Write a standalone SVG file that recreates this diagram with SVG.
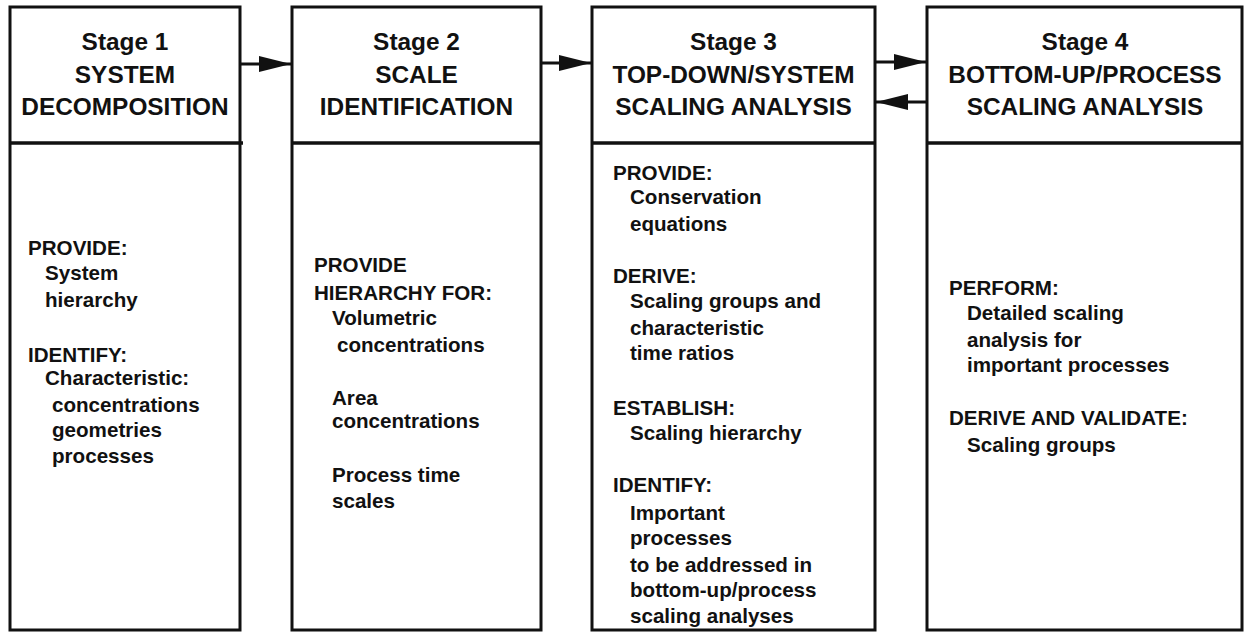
<svg xmlns="http://www.w3.org/2000/svg" width="1247" height="633" viewBox="0 0 1247 633">
<style>
.box{fill:#fff;stroke:#111;stroke-width:3}
.div{stroke:#111;stroke-width:3.5}
.hd{font-family:"Liberation Sans",Arial,Helvetica,sans-serif;font-weight:bold;font-size:24.4px;fill:#111;text-anchor:middle}
.bt{font-family:"Liberation Sans",Arial,Helvetica,sans-serif;font-weight:bold;font-size:20.6px;fill:#111}
.conn{stroke:#111;stroke-width:3;fill:none}
</style>
<defs>
<marker id="ah" markerUnits="userSpaceOnUse" markerWidth="34" markerHeight="18" refX="32" refY="9" orient="auto">
<path d="M0,1 L32,9 L0,17 Z" fill="#111"/>
</marker>
</defs>
<rect width="1247" height="633" fill="#fff"/>
<g id="stage1">
<rect class="box" x="10" y="7" width="230" height="623"/>
<line class="div" x1="10" y1="143" x2="243" y2="143"/>
<text class="hd" x="125" y="50">Stage 1</text>
<text class="hd" x="125" y="83">SYSTEM</text>
<text class="hd" x="125" y="115">DECOMPOSITION</text>
<text class="bt" x="28" y="255">PROVIDE:</text>
<text class="bt" x="45" y="280">System</text>
<text class="bt" x="45" y="307">hierarchy</text>
<text class="bt" x="28" y="362">IDENTIFY:</text>
<text class="bt" x="45" y="385">Characteristic:</text>
<text class="bt" x="52" y="412">concentrations</text>
<text class="bt" x="52" y="437">geometries</text>
<text class="bt" x="52" y="463">processes</text>
</g>
<g id="stage2">
<rect class="box" x="292" y="7" width="249" height="623"/>
<line class="div" x1="292" y1="143" x2="541" y2="143"/>
<text class="hd" x="416.5" y="50">Stage 2</text>
<text class="hd" x="416.5" y="83">SCALE</text>
<text class="hd" x="416.5" y="115">IDENTIFICATION</text>
<text class="bt" x="314" y="272">PROVIDE</text>
<text class="bt" x="314" y="300">HIERARCHY FOR:</text>
<text class="bt" x="332" y="325">Volumetric</text>
<text class="bt" x="337" y="352">concentrations</text>
<text class="bt" x="332" y="405">Area</text>
<text class="bt" x="332" y="428">concentrations</text>
<text class="bt" x="332" y="482">Process time</text>
<text class="bt" x="332" y="508">scales</text>
</g>
<g id="stage3">
<rect class="box" x="592" y="7" width="283" height="623"/>
<line class="div" x1="592" y1="143" x2="875" y2="143"/>
<text class="hd" x="733.5" y="50">Stage 3</text>
<text class="hd" x="733.5" y="83">TOP-DOWN/SYSTEM</text>
<text class="hd" x="733.5" y="115">SCALING ANALYSIS</text>
<text class="bt" x="613" y="180">PROVIDE:</text>
<text class="bt" x="630" y="204">Conservation</text>
<text class="bt" x="630" y="231">equations</text>
<text class="bt" x="613" y="283">DERIVE:</text>
<text class="bt" x="630" y="308">Scaling groups and</text>
<text class="bt" x="630" y="335">characteristic</text>
<text class="bt" x="630" y="360">time ratios</text>
<text class="bt" x="613" y="415">ESTABLISH:</text>
<text class="bt" x="630" y="440">Scaling hierarchy</text>
<text class="bt" x="613" y="492">IDENTIFY:</text>
<text class="bt" x="630" y="520">Important</text>
<text class="bt" x="630" y="545">processes</text>
<text class="bt" x="630" y="572">to be addressed in</text>
<text class="bt" x="630" y="597">bottom-up/process</text>
<text class="bt" x="630" y="623">scaling analyses</text>
</g>
<g id="stage4">
<rect class="box" x="927" y="7" width="315" height="623"/>
<line class="div" x1="927" y1="143" x2="1242" y2="143"/>
<text class="hd" x="1085" y="50">Stage 4</text>
<text class="hd" x="1085" y="83">BOTTOM-UP/PROCESS</text>
<text class="hd" x="1085" y="115">SCALING ANALYSIS</text>
<text class="bt" x="949" y="295">PERFORM:</text>
<text class="bt" x="967" y="320">Detailed scaling</text>
<text class="bt" x="967" y="347">analysis for</text>
<text class="bt" x="967" y="372">important processes</text>
<text class="bt" x="949" y="425">DERIVE AND VALIDATE:</text>
<text class="bt" x="967" y="452">Scaling groups</text>
</g>
<g id="connectors">
<line class="conn" x1="240" y1="64" x2="291" y2="64" marker-end="url(#ah)"/>
<line class="conn" x1="541" y1="63" x2="591" y2="63" marker-end="url(#ah)"/>
<line class="conn" x1="875" y1="62" x2="926" y2="62" marker-end="url(#ah)"/>
<line class="conn" x1="927" y1="102" x2="876" y2="102" marker-end="url(#ah)"/>
</g>
</svg>
